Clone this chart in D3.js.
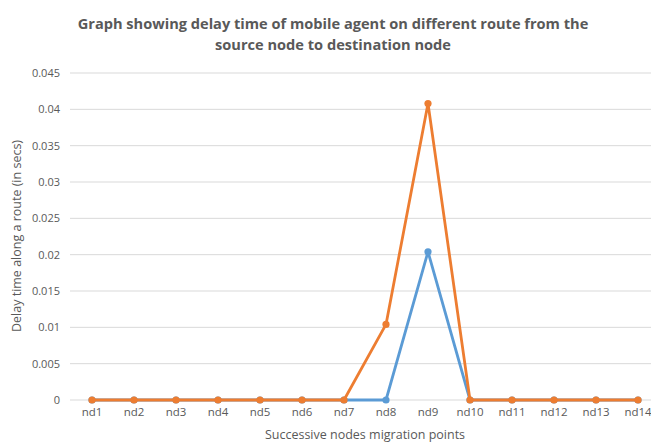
<!DOCTYPE html>
<html><head><meta charset="utf-8">
<script src="https://cdn.jsdelivr.net/npm/d3@7"></script>
<style>body{margin:0;background:#fff}svg{display:block}</style>
</head><body><svg id="c" width="651" height="444"></svg>
<script>
const categories = ["nd1","nd2","nd3","nd4","nd5","nd6","nd7","nd8","nd9","nd10","nd11","nd12","nd13","nd14"];
const seriesBlue = [0,0,0,0,0,0,0,0,0.0204,0,0,0,0,0];
const seriesOrange = [0,0,0,0,0,0,0,0.0104,0.0408,0,0,0,0,0];
const yTicks = [0,0.005,0.01,0.015,0.02,0.025,0.03,0.035,0.04,0.045];
const titleLines = ["Graph showing delay time of mobile agent on different route from the","source node to destination node"];

const svg = d3.select("#c");
const font = "'Open Sans', 'Noto Sans', sans-serif";
const x = d3.scaleBand().domain(categories).range([71, 659]);
const y = d3.scaleLinear().domain([0, 0.045]).range([400, 73]);

// grid
svg.append("g").selectAll("line").data(yTicks).join("line")
  .attr("x1", 70).attr("x2", 659)
  .attr("y1", d => y(d)).attr("y2", d => y(d))
  .attr("stroke", "#d9d9d9").attr("stroke-width", 1);

// y axis labels
const yAxis = d3.axisLeft(y).tickValues(yTicks).tickSize(0).tickPadding(8).tickFormat(d => d === 0 ? "0" : String(+d.toFixed(3)));
const gy = svg.append("g").attr("transform", "translate(60,0)").call(yAxis);
gy.select(".domain").remove();
gy.selectAll("text").attr("font-family", font).attr("font-size", 11).attr("fill", "#595959").attr("x", 0);

// x axis labels
const xAxis = d3.axisBottom(x).tickSize(0).tickPadding(8);
const gx = svg.append("g").attr("transform", "translate(0,400)").call(xAxis);
gx.select(".domain").remove();
gx.selectAll("text").attr("font-family", font).attr("font-size", 11.5).attr("fill", "#595959");

const cx = d => x(d) + x.bandwidth() / 2;
const line = d3.line().x(d => cx(d.c)).y(d => y(d.v));
function drawSeries(vals, color) {
  const data = categories.map((c, i) => ({c, v: vals[i]}));
  svg.append("path").datum(data).attr("d", line).attr("fill", "none")
    .attr("stroke", color).attr("stroke-width", 2.8).attr("stroke-linejoin", "round");
  svg.append("g").selectAll("circle").data(data).join("circle")
    .attr("cx", d => cx(d.c)).attr("cy", d => y(d.v)).attr("r", 3.6).attr("fill", color);
}
drawSeries(seriesBlue, "#5b9bd5");
drawSeries(seriesOrange, "#ed7d31");

// title
svg.append("text").attr("text-anchor", "middle").attr("font-family", font)
  .attr("font-size", 14.6).attr("font-weight", "bold").attr("fill", "#595959")
  .selectAll("tspan").data(titleLines).join("tspan")
  .attr("x", 333).attr("y", (d, i) => 29 + i * 21).text(d => d);

// axis titles
svg.append("text").attr("transform", "translate(21,236) rotate(-90)").attr("text-anchor", "middle")
  .attr("font-family", font).attr("font-size", 12.5).attr("fill", "#595959")
  .text("Delay time along a route (in secs)");
svg.append("text").attr("x", 365).attr("y", 439).attr("text-anchor", "middle")
  .attr("font-family", font).attr("font-size", 12.5).attr("fill", "#595959")
  .text("Successive nodes migration points");
</script></body></html>
